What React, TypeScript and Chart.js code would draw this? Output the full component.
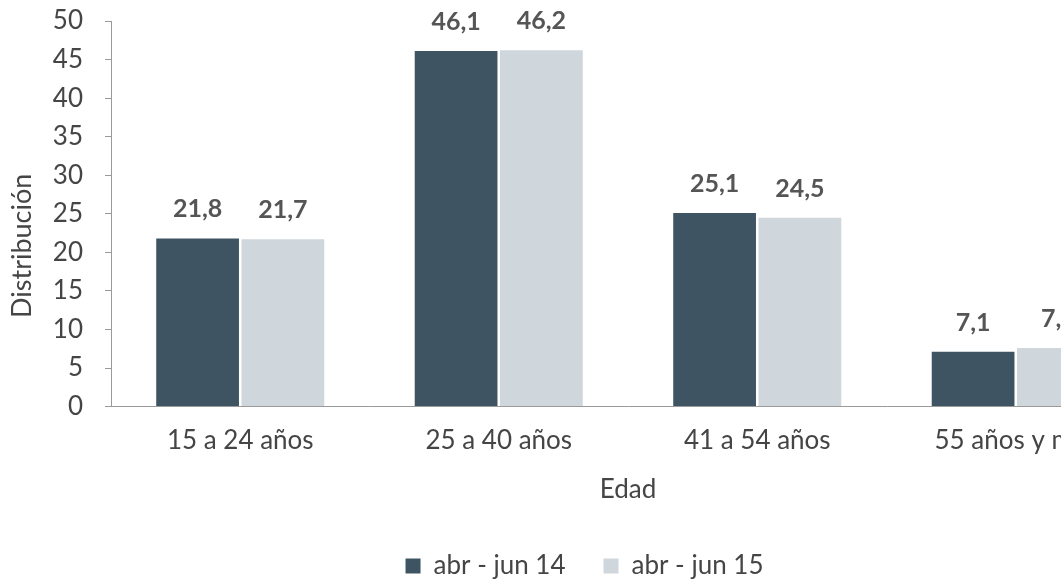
import React, { useEffect, useRef } from 'react';
import { Chart, registerables } from 'chart.js';

Chart.register(...registerables);

const categories = ['15 a 24 años', '25 a 40 años', '41 a 54 años', '55 años y más'];
const seriesNames = ['abr - jun 14', 'abr - jun 15'];
const values14 = [21.8, 46.1, 25.1, 7.1];
const values15 = [21.7, 46.2, 24.5, 7.6];
const yTitle = 'Distribución';
const xTitle = 'Edad';

const FONT = 'Lato, "Open Sans", sans-serif';
const TEXT = '#454545';

const valueLabels = {
  id: 'valueLabels',
  afterDatasetsDraw(chart: any) {
    const ctx = chart.ctx;
    ctx.save();
    ctx.font = `bold 25px ${FONT}`;
    ctx.fillStyle = '#555555';
    ctx.textAlign = 'center';
    ctx.textBaseline = 'alphabetic';
    chart.data.datasets.forEach((ds: any, di: number) => {
      const meta = chart.getDatasetMeta(di);
      meta.data.forEach((bar: any, i: number) => {
        const v = ds.data[i];
        ctx.fillText(String(v.toFixed(1)).replace('.', ','), bar.x, bar.y - 21);
      });
    });
    ctx.restore();
  },
};

const yTitlePlugin = {
  id: 'yTitlePlugin',
  afterDraw(chart: any) {
    const ctx = chart.ctx;
    const area = chart.chartArea;
    ctx.save();
    ctx.translate(22, (area.top + area.bottom) / 2 + 32);
    ctx.rotate(-Math.PI / 2);
    ctx.font = `27px ${FONT}`;
    ctx.fillStyle = TEXT;
    ctx.textAlign = 'center';
    ctx.textBaseline = 'middle';
    ctx.fillText(yTitle, 0, 0);
    ctx.restore();
  },
};

export default function App() {
  const ref = useRef<HTMLCanvasElement>(null);

  useEffect(() => {
    if (!ref.current) return;
    const chart = new Chart(ref.current, {
      type: 'bar',
      data: {
        labels: categories,
        datasets: [
          {
            label: seriesNames[0],
            data: values14,
            backgroundColor: '#3e5462',
            borderWidth: 0,
            categoryPercentage: 0.66,
            barPercentage: 0.97,
          },
          {
            label: seriesNames[1],
            data: values15,
            backgroundColor: '#cfd6dc',
            borderWidth: 0,
            categoryPercentage: 0.66,
            barPercentage: 0.97,
          },
        ],
      },
      options: {
        responsive: false,
        animation: false,
        layout: { padding: { top: 21, left: 24, right: 21, bottom: 11 } },
        plugins: {
          legend: {
            position: 'bottom',
            labels: {
              boxWidth: 15,
              boxHeight: 15,
              padding: 38,
              color: TEXT,
              font: { family: FONT, size: 26 },
            },
          },
          tooltip: { enabled: false },
        },
        scales: {
          x: {
            offset: true,
            grid: { display: false, drawTicks: false },
            border: { display: true, color: '#9a9a9a' },
            ticks: {
              color: TEXT,
              font: { family: FONT, size: 26 },
              padding: 18,
              maxRotation: 0,
              autoSkip: false,
            },
            title: {
              display: true,
              text: xTitle,
              color: TEXT,
              font: { family: FONT, size: 26 },
              padding: { top: 0, bottom: 10 },
            },
          },
          y: {
            min: 0,
            max: 50,
            grid: { drawOnChartArea: false, drawTicks: true, tickLength: 6, color: '#9a9a9a' },
            border: { display: true, color: '#9a9a9a' },
            ticks: {
              stepSize: 5,
              color: TEXT,
              font: { family: FONT, size: 26 },
              padding: 22,
            },
            afterFit: (s: any) => {
              s.width = 87;
              s.paddingTop = 0;
              s.paddingBottom = 0;
            },
          },
        },
      },
      plugins: [valueLabels, yTitlePlugin],
    });
    return () => chart.destroy();
  }, []);

  return (
    <div
      style={{
        position: 'absolute',
        left: 0,
        top: 0,
        width: 1061,
        height: 583,
        overflow: 'hidden',
        background: '#ffffff',
      }}
    >
      <canvas ref={ref} width={1166} height={600} style={{ display: 'block' }} />
    </div>
  );
}
